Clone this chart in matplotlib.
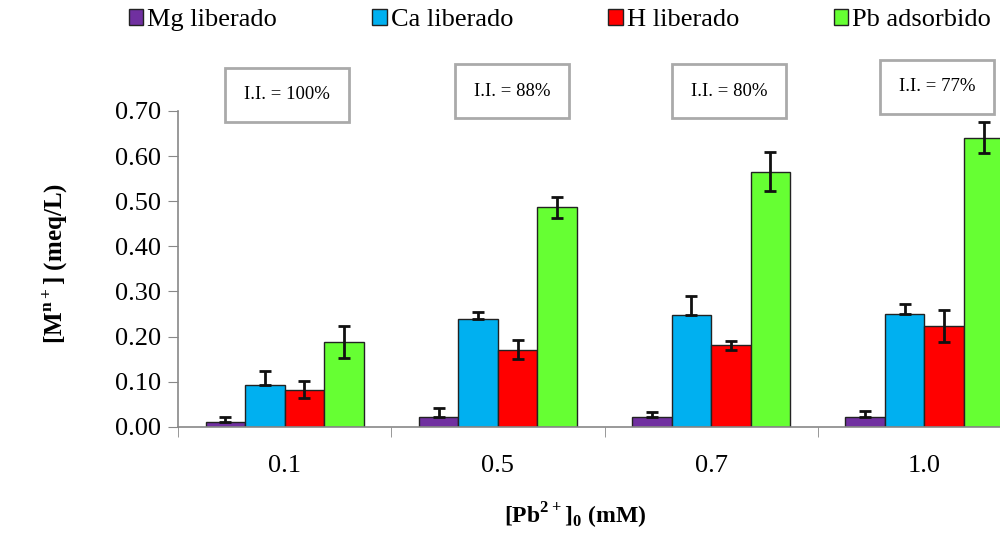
import matplotlib.pyplot as plt
import numpy as np
from matplotlib.patches import Patch

plt.rcParams['font.family'] = ['Liberation Serif', 'DejaVu Serif']
plt.rcParams['mathtext.fontset'] = 'custom'
plt.rcParams['mathtext.rm'] = 'Liberation Serif'
plt.rcParams['mathtext.bf'] = 'Liberation Serif:bold'

groups = ["0.1", "0.5", "0.7", "1.0"]
series = ["Mg liberado", "Ca liberado", "H liberado", "Pb adsorbido"]
colors = ["#7030A0", "#00B0F0", "#FF0000", "#66FF33"]
mg = [0.012, 0.021, 0.023, 0.023]
mg_err = [0.010, 0.021, 0.010, 0.013]
ca = [0.093, 0.239, 0.247, 0.250]
ca_err = [0.031, 0.016, 0.042, 0.022]
h = [0.082, 0.171, 0.181, 0.224]
h_err = [0.019, 0.021, 0.010, 0.035]
pb = [0.188, 0.486, 0.565, 0.641]
pb_err = [0.036, 0.024, 0.043, 0.035]
ii_labels = ["I.I. = 100%", "I.I. = 88%", "I.I. = 80%", "I.I. = 77%"]

values = [mg, ca, h, pb]
errors = [mg_err, ca_err, h_err, pb_err]
upper_only = [True, True, False, False]

fig = plt.figure(figsize=(10, 5.33), dpi=100)
ax = fig.add_axes([0.178, 0.199, 0.853, 0.593])

x = np.arange(len(groups))
w = 0.185
for i in range(4):
    pos = x + (i - 1.5) * w
    ax.bar(pos, values[i], w, color=colors[i], edgecolor="#222222", linewidth=1, zorder=2)
    err = np.array(errors[i])
    if upper_only[i]:
        yerr = [np.zeros_like(err), err]
    else:
        yerr = err
    ax.errorbar(pos, values[i], yerr=yerr, fmt="none", ecolor="#111111",
                elinewidth=2, capsize=4.5, capthick=2, zorder=3)

ax.set_xlim(-0.5, 3.5)
ax.set_ylim(0, 0.70)
ax.set_yticks(np.arange(0, 0.71, 0.1))
ax.set_yticklabels(["%.2f" % v for v in np.arange(0, 0.71, 0.1)], fontsize=19)
ax.set_xticks(x)
ax.set_xticklabels(groups, fontsize=19)
ax.set_xticks([-0.5, 0.5, 1.5, 2.5, 3.5], minor=True)
ax.tick_params(axis="x", which="major", length=0, pad=20)
ax.tick_params(axis="x", which="minor", length=7, color="#888888", direction="out")
ax.tick_params(axis="y", length=7, color="#888888", direction="out", pad=5)
for s in ["top", "right"]:
    ax.spines[s].set_visible(False)
for s in ["left", "bottom"]:
    ax.spines[s].set_color("#888888")
    ax.spines[s].set_linewidth(1.2)

fig.text(0.055, 0.505, r"[M$^{\mathbf{n+}}$] (meq/L)", rotation=90, fontsize=18,
         fontweight="bold", ha="center", va="center")
fig.text(0.575, 0.033, r"[Pb$^{\mathbf{2+}}$]$_{\mathbf{0}}$ (mM)", fontsize=17,
         fontweight="bold", ha="center", va="center")

# I.I. boxes
box_x = [0.287, 0.512, 0.729, 0.937]
box_y = [0.822, 0.829, 0.829, 0.837]
for bx, by, lab in zip(box_x, box_y, ii_labels):
    fig.text(bx, by, lab, fontsize=13.5, ha="center", va="center",
             bbox=dict(boxstyle="square,pad=1.0", facecolor="white",
                       edgecolor="#AAAAAA", linewidth=2))

handles = [Patch(facecolor=c, edgecolor="#222222", linewidth=1) for c in colors]
fig.legend(handles, series, loc="center", bbox_to_anchor=(0.56, 0.962), ncol=4,
           frameon=False, fontsize=19, handlelength=0.55, handleheight=0.55,
           handletextpad=0.15, columnspacing=3.6)

fig.savefig("out.png", dpi=100)
